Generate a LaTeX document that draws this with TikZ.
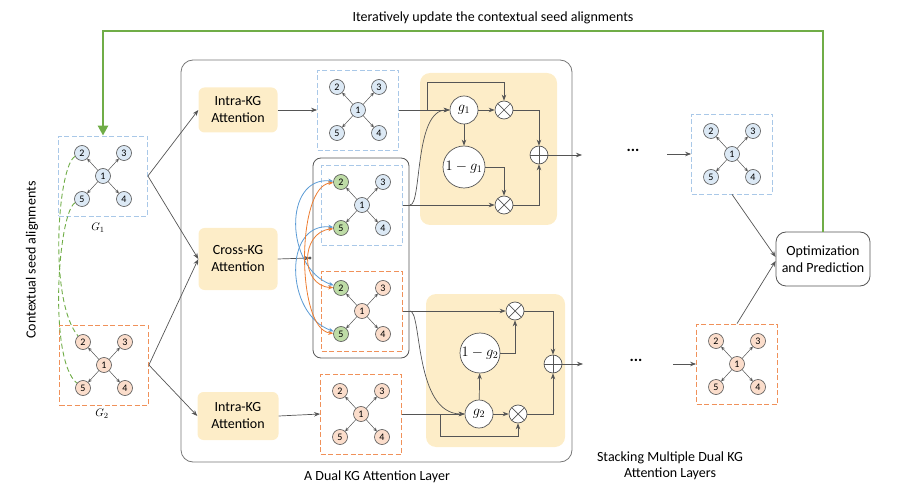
\documentclass[tikz,border=0pt]{standalone}
\usepackage{fontspec}
\setmainfont{Carlito}
\usetikzlibrary{arrows.meta,calc}
\definecolor{nblue}{HTML}{DCE9F5}
\definecolor{norange}{HTML}{FBDDCB}
\definecolor{ngreen}{HTML}{BEDCA6}
\definecolor{bblue}{HTML}{A9C8E8}
\definecolor{borange}{HTML}{F0915A}
\definecolor{yfill}{HTML}{FDEDC8}
\definecolor{lgreen}{HTML}{70AD47}
\definecolor{ablue}{HTML}{5B9BD5}
\definecolor{aorange}{HTML}{ED7D31}
\definecolor{lgray}{HTML}{555555}
\tikzset{
 kn/.style={circle,draw=lgray,line width=0.6pt,minimum size=15pt,inner sep=0pt,font=\fontsize{10}{10}\selectfont},
 kedge/.style={draw=lgray,line width=0.5pt,-{Stealth[length=3.5pt,width=3.5pt]}},
 dbox/.style={draw,fill=white,dash pattern=on 5pt off 2.5pt,line width=0.8pt,minimum height=80pt,inner sep=0pt},
 att/.style={fill=yfill,rounded corners=6pt,minimum width=79pt,align=center,font=\fontsize{14}{17}\selectfont,inner sep=0pt},
 arr/.style={draw=lgray,line width=0.7pt,-{Stealth[length=6pt,width=4.5pt]}},
 carr/.style={line width=0.8pt,{Stealth[length=5pt,width=4pt]}-{Stealth[length=5pt,width=4pt]}},
 gate/.style={circle,draw=lgray,fill=white,line width=0.7pt,inner sep=0pt,font=\fontsize{14}{14}\selectfont},
 otimes/.style={circle,draw=lgray,fill=white,line width=0.7pt,minimum size=18pt,inner sep=0pt,
   path picture={\draw[lgray,line width=0.7pt] (path picture bounding box.north west)--(path picture bounding box.south east) (path picture bounding box.north east)--(path picture bounding box.south west);}},
 oplus/.style={circle,draw=lgray,fill=white,line width=0.7pt,minimum size=18pt,inner sep=0pt,
   path picture={\draw[lgray,line width=0.7pt] (path picture bounding box.north)--(path picture bounding box.south) (path picture bounding box.east)--(path picture bounding box.west);}},
 txt/.style={font=\fontsize{14}{16.5}\selectfont,align=center},
 dotsn/.style={font=\fontsize{16}{16}\selectfont\bfseries},
}
\newcommand\kgraph[7]{%
 \node[dbox,draw=#6,minimum width=#7] (#1) at (#2,#3) {};
 \begin{scope}[shift={(#2,#3)}]
  \node[kn,fill=#4] (#1n1) at (0,0) {1};
  \node[kn,fill=#5] (#1n2) at (-21,-23) {2};
  \node[kn,fill=#4] (#1n3) at (21,-23) {3};
  \node[kn,fill=#4] (#1n4) at (21,23) {4};
  \node[kn,fill=#5] (#1n5) at (-21,23) {5};
  \foreach \t in {2,3,4,5} \draw[kedge] (#1n1) -- (#1n\t);
 \end{scope}}
\begin{document}
\begin{tikzpicture}[x=1pt,y=-1pt]
\useasboundingbox (0,0) rectangle (907,494);
% big layer box
\node[draw=lgray!80,rounded corners=12pt,line width=0.8pt,minimum width=391pt,minimum height=402pt,inner sep=0pt] (layer) at (376.5,261) {};
% gate panels
\node[fill=yfill,rounded corners=10pt,minimum width=137pt,minimum height=152pt,inner sep=0pt] (gp1) at (488.5,149) {};
\node[fill=yfill,rounded corners=10pt,minimum width=139pt,minimum height=153pt,inner sep=0pt] (gp2) at (495.5,370.5) {};
% cross container
\node[draw=lgray,rounded corners=8pt,line width=0.8pt,minimum width=96pt,minimum height=200pt,inner sep=0pt] (cont) at (361,258) {};
% attention boxes
\node[att,minimum height=45pt] (ia) at (238,110) {Intra-KG\\Attention};
\node[att,minimum height=62pt] (catt) at (238,259) {Cross-KG\\Attention};
\node[att,minimum width=81pt,minimum height=48pt] (ib) at (238,416) {Intra-KG\\Attention};
% graphs
\kgraph{ga}{103}{176}{nblue}{nblue}{bblue}{89}
\kgraph{gb}{104}{365}{norange}{norange}{borange}{89}
\kgraph{ta}{358}{110}{nblue}{nblue}{bblue}{81}
\kgraph{ca}{362}{205}{nblue}{ngreen}{bblue}{81}
\kgraph{cb}{362}{311}{norange}{ngreen}{borange}{81}
\kgraph{bb}{361}{414}{norange}{norange}{borange}{81}
\kgraph{ra}{732}{154}{nblue}{nblue}{bblue}{81}
\kgraph{rb}{737}{364}{norange}{norange}{borange}{81}
\node[font=\fontsize{11}{11}\selectfont] (tg1) at (98,228) {$G_1$};
\node[font=\fontsize{11}{11}\selectfont] (tg2) at (102,414) {$G_2$};
% optimization
\node[draw=lgray,fill=white,rounded corners=10pt,line width=0.8pt,minimum width=94pt,minimum height=54pt,inner sep=0pt,align=center,font=\fontsize{14}{17}\selectfont] (opt) at (823,259) {Optimization\\and Prediction};
% left arrows
\draw[arr] (ga.east) -- (ia.west);
\draw[arr] (ga.east) -- (catt.west);
\draw[arr] (gb.east) -- (catt.west);
\draw[arr] (gb.east) -- (ib.west);
\draw[arr] (ia.east) -- (ta.west);
\draw[arr] (ib.east) -- (bb.west);
\coordinate (dot) at (310,258);
\draw[arr] (catt.east) -- (dot);
\fill[lgray] (dot) circle (1.6);
% cross attention arcs
\draw[carr,ablue] (can2) .. controls (283,176) and (285,268) .. (cbn2);
\draw[carr,ablue] (can5) .. controls (283,222) and (285,314) .. (cbn5);
\draw[carr,aorange] (can2) .. controls (296,186) and (296,330) .. (cbn5);
\draw[carr,aorange] (can5) .. controls (300,232) and (300,286) .. (cbn2);
% seed alignments
\draw[lgreen,line width=0.9pt,dash pattern=on 5pt off 3pt] (gan2) .. controls (58,165) and (48,300) .. (gbn2);
\draw[lgreen,line width=0.9pt,dash pattern=on 5pt off 3pt] (gan5) .. controls (58,212) and (48,360) .. (gbn5);
% gate 1
\node[gate,minimum size=28pt] (g1) at (464,110) {$g_1$};
\node[otimes] (x1a) at (504,110) {};
\node[gate,minimum size=42pt] (h1) at (464,167) {$1-g_1$};
\node[otimes] (x1b) at (504,205) {};
\node[oplus] (p1) at (539,155) {};
\coordinate (t1) at (427,82);
\draw[arr] (ta.east) -- (g1.west);
\draw[arr] (ta.east) -| (t1) -| (x1a.north);
\draw[arr] (ca.east) -- (x1b.west);
\coordinate (j2) at (410,205);
\draw[arr] (j2) .. controls (422,205) and (414,110) .. (g1.west);
\draw[arr] (g1) -- (x1a);
\draw[arr] (g1) -- (h1);
\draw[arr] (h1.east) -| (x1b.north);
\draw[arr] (x1a.east) -| (p1.north);
\draw[arr] (x1b.east) -| (p1.south);
\coordinate (o1) at (582,155);
\draw[arr] (p1.east) -- (o1);
\node[dotsn] (dots1) at (633,150) {...};
\coordinate (i1) at (667,154);
\draw[arr] (i1) -- (ra.west);
% gate 2
\node[otimes] (x2a) at (515,311) {};
\node[gate,minimum size=40pt] (h2) at (480,353) {$1-g_2$};
\node[oplus] (p2) at (553,364) {};
\node[gate,minimum size=28pt] (g2) at (479,414) {$g_2$};
\node[otimes] (x2b) at (518,414) {};
\draw[arr] (cb.east) -- (x2a.west);
\coordinate (j3) at (410,311);
\draw[arr] (j3) .. controls (422,311) and (414,414) .. (g2.west);
\draw[arr] (bb.east) -- (g2.west);
\coordinate (j4) at (440,414);
\coordinate (t4) at (440,436);
\draw[arr] (j4) -- (t4) -| (x2b.south);
\draw[arr] (g2) -- (h2);
\draw[arr] (h2.east) -| (x2a.south);
\draw[arr] (g2) -- (x2b);
\draw[arr] (x2a.east) -| (p2.north);
\draw[arr] (x2b.east) -| (p2.south);
\coordinate (o2) at (583,364);
\draw[arr] (p2.east) -- (o2);
\node[dotsn] (dots2) at (636,360) {...};
\coordinate (i2) at (673,364);
\draw[arr] (i2) -- (rb.west);
% to optimization
\draw[arr] (ra.south) -- ([yshift=2pt]opt.west);
\draw[arr] (rb.north) -- ([yshift=-2pt]opt.west);
% green feedback
\coordinate (gc) at (103,31);
\draw[lgreen,line width=2.5pt,-{Triangle[length=10pt,width=10pt]}] (opt.north) |- (gc) -- (ga.north);
% texts
\node[txt] (ttop) at (493,18) {Iteratively update the contextual seed alignments};
\node[txt,rotate=90] (tctx) at (32,260) {Contextual seed alignments};
\node[txt] (tlayer) at (377,477) {A Dual KG Attention Layer};
\node[txt] (tstack) at (670,466) {Stacking Multiple Dual KG\\Attention Layers};
\end{tikzpicture}
\end{document}
